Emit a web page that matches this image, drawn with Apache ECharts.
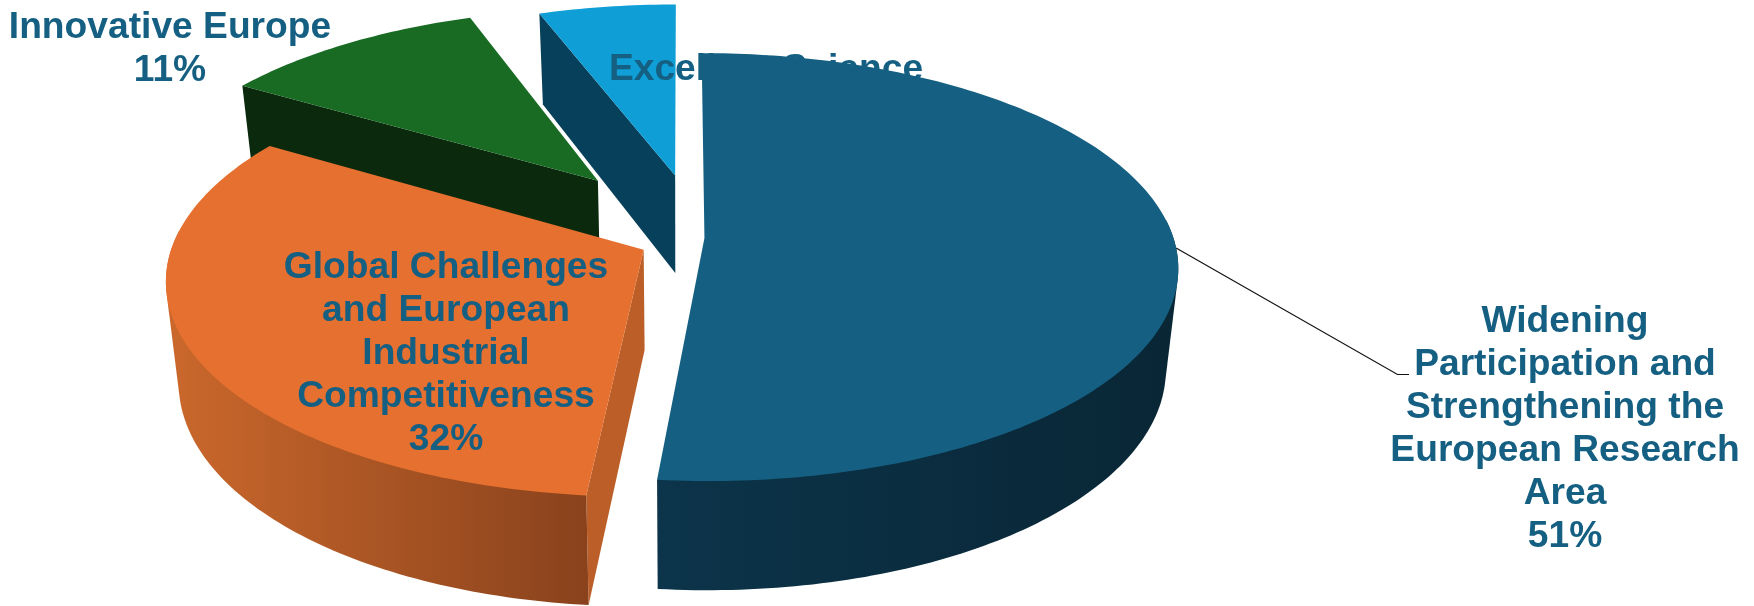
<!DOCTYPE html>
<html>
<head>
<meta charset="utf-8">
<style>html,body{margin:0;padding:0;background:#fff}#chart{width:1754px;height:606px}</style>
<script src="https://cdn.jsdelivr.net/npm/echarts@6/dist/echarts.min.js"></script>
</head>
<body>
<div id="chart"></div>
<script>
// Budget shares, clockwise from twelve o'clock.
const categories = [
  'Widening\nParticipation and\nStrengthening the\nEuropean Research\nArea',
  'Global Challenges\nand European\nIndustrial\nCompetitiveness',
  'Innovative Europe',
  'Excellent Science'
];
const shares = [51, 32, 11, 6];

// Drawing styles, one entry per slice.
const topColors = ['#156082', '#E6702F', '#196B24', '#0F9ED5'];
const wallColors = [['#0C344A', '#092635'], ['#CB682C', '#89421C'], ['#0B2A0D', '#0B2A0D'], ['#07405A', '#07405A']];
const faceColors = ['#0A2C3C', '#BC5E27', '#0B2A0D', '#07405A'];
const layers = [40, 30, 20, 10];
// How far each slice is pulled out of the pie, in pie radii (right, toward viewer).
const pull = [[0.05, 0], [-0.079, 0.055], [-0.184, -0.283], [-0.013, -0.31]];
// Small foreshortening correction of each slice's leading edge, in degrees.
const edgeNudge = [0, 1.8, 2.6, 1.7];
// Label centres and their stacking.
const labelAnchors = [[1565, 318], [446, 264], [170, 24], [766, 66]];
const labelLayers = [60, 60, 60, 15];

const view = { cx: 681, cy: 238, a: 469, b: 210, persp: 0.136, depth: 100, depthPow: 0.6, baseScale: 0.975 };
const TEXT = '#156082';

// Perspective projection of a point on the pie plane; drop=true gives the underside.
function project(off, deg, r, drop) {
  const t = deg * Math.PI / 180;
  const u = off[0] + r * Math.sin(t);
  const v = off[1] - r * Math.cos(t);
  const w = 1 / (1 - view.persp * v);
  let x = view.a * w * u;
  let y = view.cy + view.b * v * w;
  if (drop) {
    x *= view.baseScale;
    y += view.depth * Math.pow(w, view.depthPow);
  }
  return [view.cx + x, y];
}

function arc(off, from, to, drop) {
  const pts = [];
  const n = Math.max(2, Math.ceil(Math.abs(to - from)));
  for (let i = 0; i <= n; i++) pts.push(project(off, from + (to - from) * i / n, 1, drop));
  return pts;
}

// Outline of a wall including its silhouette tangents.
function hull(points) {
  const p = points.slice().sort((a, b) => a[0] - b[0] || a[1] - b[1]);
  const cross = (o, a, b) => (a[0] - o[0]) * (b[1] - o[1]) - (a[1] - o[1]) * (b[0] - o[0]);
  const half = list => {
    const out = [];
    list.forEach(q => {
      while (out.length > 1 && cross(out[out.length - 2], out[out.length - 1], q) <= 0) out.pop();
      out.push(q);
    });
    out.pop();
    return out;
  };
  return half(p).concat(half(p.slice().reverse()));
}

const total = shares.reduce((s, d) => s + d, 0);
const startAngles = shares.map((_, i) => shares.slice(0, i).reduce((s, d) => s + d, 0) / total * 360);

function renderSlice(params, api) {
  const i = params.dataIndex;
  const value = api.value(0);
  const from = startAngles[i] + edgeNudge[i];
  const to = startAngles[i] + value / total * 360 + (i + 1 < shares.length ? edgeNudge[i + 1] : 0);
  const off = pull[i];
  const z = layers[i];
  const children = [
    { // top surface
      type: 'polygon', z2: z + 2,
      shape: { points: [project(off, 0, 0, false)].concat(arc(off, from, to, false)) },
      style: { fill: topColors[i] }
    },
    {
      type: 'text', z2: labelLayers[i],
      style: {
        text: categories[i] + '\n' + value + '%',
        x: labelAnchors[i][0], y: labelAnchors[i][1] - 18,
        align: 'center', verticalAlign: 'top',
        font: 'bold 37.2px "Liberation Sans", Arial, sans-serif',
        lineHeight: 43, fill: TEXT
      }
    }
  ];
  // radial face at the leading edge, when that edge looks toward the viewer
  if (from > 180) {
    children.push({
      type: 'polygon', z2: z,
      shape: { points: [project(off, 0, 0, false), project(off, from, 1, false), project(off, from, 1, true), project(off, 0, 0, true)] },
      style: { fill: faceColors[i] }
    });
  }
  // outer wall, only along the part of the rim that faces the viewer
  const wallFrom = Math.max(from, 85);
  const wallTo = Math.min(to, 275);
  if (wallTo > wallFrom) {
    children.push({
      type: 'polygon', z2: z + 1,
      shape: { points: hull(arc(off, wallFrom, wallTo, false).concat(arc(off, wallFrom, wallTo, true))) },
      style: { fill: new echarts.graphic.LinearGradient(0, 0, 1, 0, [
        { offset: 0, color: wallColors[i][0] }, { offset: 1, color: wallColors[i][1] }
      ]) }
    });
  }
  if (i === 0) {
    // leader from the rim of the largest slice to its label
    children.push({
      type: 'polyline', z2: 55,
      shape: { points: [project(off, (from + to) / 2, 1, false), [1397.5, 374.5], [1409, 374.5]] },
      style: { stroke: '#111', lineWidth: 1.2, fill: null }
    });
  }
  return { type: 'group', children };
}

const chart = echarts.init(document.getElementById('chart'), null, { renderer: 'canvas' });
chart.setOption({
  backgroundColor: '#fff',
  animation: false,
  series: [{
    type: 'custom',
    coordinateSystem: 'none',
    silent: true,
    renderItem: renderSlice,
    data: shares.map(d => [d])
  }]
});
</script>
</body>
</html>
